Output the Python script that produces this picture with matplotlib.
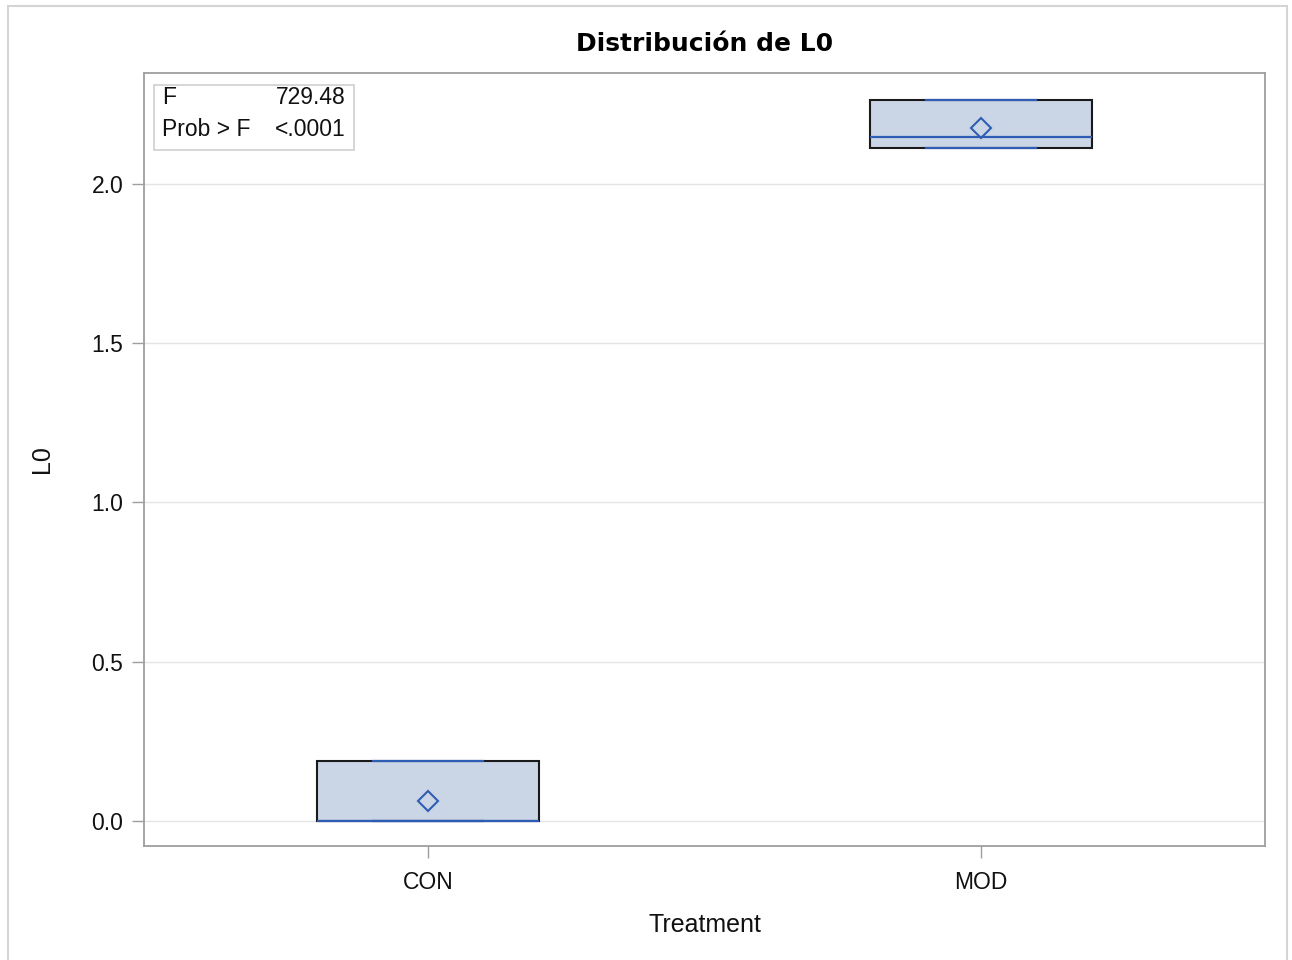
import matplotlib.pyplot as plt
from matplotlib.patches import Rectangle

# Summary statistics per treatment group (L0)
treatments = ["CON", "MOD"]
q1_vals = [0.0, 2.113]
median_vals = [0.0, 2.148]
q3_vals = [0.188, 2.264]
mean_vals = [0.063, 2.176]
whisker_lo = [0.0, 2.113]
whisker_hi = [0.188, 2.264]
y_ticks = [0.0, 0.5, 1.0, 1.5, 2.0]

# ANOVA result
f_value = 729.48
p_text = "<.0001"

box_fill = "#CAD5E6"
line_blue = "#2F5DB4"
frame_gray = "#9E9E9E"

plt.rcParams["font.family"] = ["Liberation Sans", "DejaVu Sans"]

fig = plt.figure(figsize=(12.92, 9.6), dpi=100)
ax = fig.add_axes([144 / 1292, 1 - 846 / 960, 1121 / 1292, 773 / 960])

stats = []
for i, name in enumerate(treatments):
    stats.append({
        "label": name,
        "q1": q1_vals[i],
        "med": median_vals[i],
        "q3": q3_vals[i],
        "mean": mean_vals[i],
        "whislo": whisker_lo[i],
        "whishi": whisker_hi[i],
        "fliers": [],
    })

ax.bxp(stats, positions=range(len(treatments)), widths=0.4, capwidths=0.2,
       patch_artist=True, showmeans=True, showfliers=False,
       boxprops=dict(facecolor=box_fill, edgecolor="#1A1A1A", linewidth=1.5),
       medianprops=dict(color=line_blue, linewidth=1.6),
       whiskerprops=dict(color=line_blue, linewidth=1.5),
       capprops=dict(color=line_blue, linewidth=1.6),
       meanprops=dict(marker="D", markersize=10, markerfacecolor="none",
                      markeredgecolor=line_blue, markeredgewidth=1.5),
       zorder=3)

ax.set_xlim(-0.5136, 1.5136)
ax.set_ylim(-0.0785, 2.348)
ax.set_xticks(range(len(treatments)))
ax.set_xticklabels(treatments)
ax.set_yticks(y_ticks)
ax.set_yticklabels([f"{t:.1f}" for t in y_ticks])

ax.grid(axis="y", color="#E4E4E4", linewidth=1.0, zorder=0)
ax.set_axisbelow(True)
for side in ax.spines.values():
    side.set_color(frame_gray)
    side.set_linewidth(1.3)
ax.tick_params(axis="both", colors=frame_gray, labelcolor="#111111",
               length=8.5, width=1.0, labelsize=16.5)
ax.tick_params(axis="x", pad=9.5)
ax.tick_params(axis="y", pad=6.5)

ax.set_xlabel("Treatment", fontsize=18, color="#111111")
ax.set_ylabel("L0", fontsize=18, color="#111111")
ax.xaxis.set_label_coords(0.5, -0.087)
ax.yaxis.set_label_coords(-0.080, 0.5)

# F statistic inset
ax.add_patch(Rectangle((0.0089, 0.9004), 0.1784, 0.0841, transform=ax.transAxes,
                       facecolor="white", edgecolor="#CFCFCF", linewidth=1.2, zorder=5))
ax.text(0.016, 0.9677, "F", transform=ax.transAxes, fontsize=16.5,
        va="center", ha="left", color="#111111", zorder=6)
ax.text(0.180, 0.9677, f"{f_value:.2f}", transform=ax.transAxes, fontsize=16.5,
        va="center", ha="right", color="#111111", zorder=6)
ax.text(0.016, 0.9263, "Prob > F", transform=ax.transAxes, fontsize=16.5,
        va="center", ha="left", color="#111111", zorder=6)
ax.text(0.180, 0.9263, p_text, transform=ax.transAxes, fontsize=16.5,
        va="center", ha="right", color="#111111", zorder=6)

fig.text(704.5 / 1292, 1 - 44 / 960, "Distribución de L0", fontsize=18,
         fontweight="bold", family="DejaVu Sans", ha="center", va="center")

# outer graph border
fig.patches.append(Rectangle((8 / 1292, -0.01), 1279 / 1292, 1 - 6 / 960 + 0.01,
                             transform=fig.transFigure, fill=False,
                             edgecolor="#D4D4D4", linewidth=1.5))

fig.savefig("out.png", dpi=100)
